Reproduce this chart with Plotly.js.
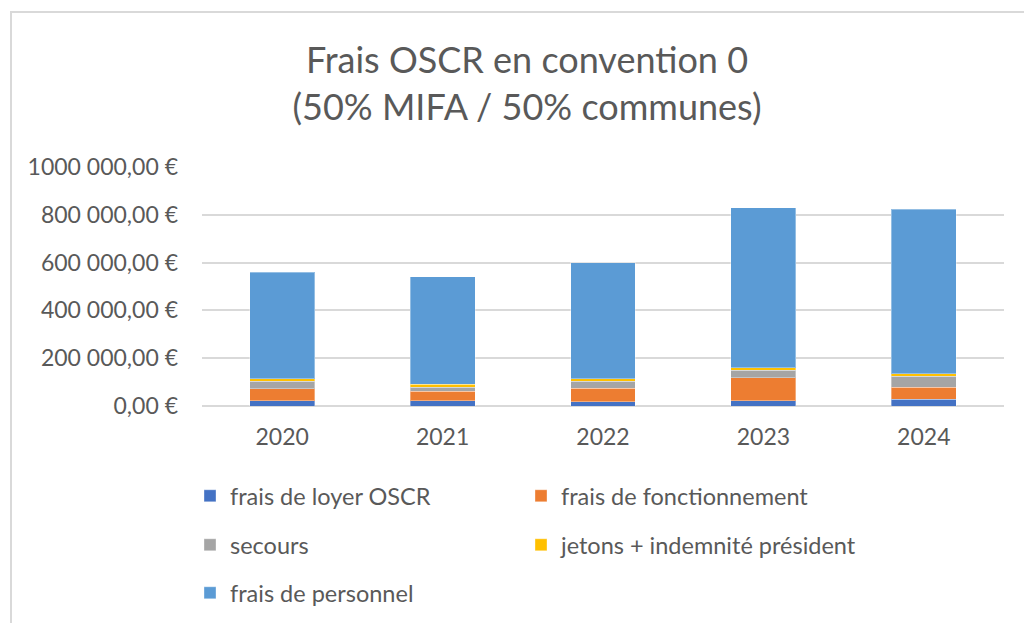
<!DOCTYPE html>
<html>
<head>
<meta charset="utf-8">
<script src="https://cdn.plot.ly/plotly-3.0.1.min.js"></script>
<style>
html,body{margin:0;padding:0;width:1024px;height:623px;overflow:hidden;background:#fff;}
#frame{position:absolute;left:10px;top:11px;width:1100px;height:700px;border:2px solid #d9d9d9;box-sizing:border-box;}
#chart{position:absolute;left:0;top:0;width:1024px;height:623px;}
</style>
</head>
<body>
<div id="frame"></div>
<div id="chart"></div>
<script>
const years = ["2020", "2021", "2022", "2023", "2024"];
const loyer = [22000, 22000, 17000, 22000, 29000];
const fonctionnement = [50000, 39000, 57000, 97000, 50000];
const secours = [31000, 18000, 29000, 30000, 46000];
const jetons = [10000, 13000, 10000, 11000, 11000];
const personnel = [446000, 449000, 487000, 670000, 688000];
const seriesNames = ["frais de loyer OSCR", "frais de fonctionnement", "secours", "jetons + indemnité président", "frais de personnel"];
const tickVals = [0, 200000, 400000, 600000, 800000, 1000000];
const tickText = ["0,00 €", "200 000,00 €", "400 000,00 €", "600 000,00 €", "800 000,00 €", "1000 000,00 €"];

const colors = ["#4472C4", "#ED7D31", "#A5A5A5", "#FFC000", "#5B9BD5"];
const legendIds = ["legend", "legend2", "legend3", "legend4", "legend5"];
const legendPos = [[190, 496], [521, 496], [190, 545], [521, 545], [190, 593]];
const values = [loyer, fonctionnement, secours, jetons, personnel];

const FONT = "Lato, 'Open Sans', sans-serif";
const traces = values.map((v, i) => ({
  type: "bar",
  x: years,
  y: v,
  name: seriesNames[i],
  legend: legendIds[i],
  marker: {color: colors[i], line: {color: "rgba(255,255,255,0.35)", width: 1}},
  hoverinfo: "x+y+name"
}));

const layout = {
  width: 1024, height: 623,
  paper_bgcolor: "rgba(0,0,0,0)",
  plot_bgcolor: "rgba(0,0,0,0)",
  barmode: "stack",
  bargap: 0.595,
  margin: {l: 202, r: 20, t: 167, b: 217},
  font: {family: FONT, color: "#595959"},
  title: {
    text: "Frais OSCR en convention 0<br>(50% MIFA / 50% communes)",
    font: {family: FONT, size: 36, color: "#595959"},
    xref: "container", x: 527 / 1024, xanchor: "center",
    yref: "container", y: 1 - 73 / 623, yanchor: "top"
  },
  xaxis: {
    type: "category",
    showgrid: false,
    showline: false,
    zeroline: false,
    ticks: "",
    ticklabelstandoff: 15,
    tickfont: {family: FONT, size: 23, color: "#595959"}
  },
  yaxis: {
    range: [0, 1000000],
    tickvals: tickVals,
    ticktext: tickText,
    showgrid: true,
    gridcolor: "#d9d9d9",
    gridwidth: 1.5,
    zeroline: true,
    zerolinecolor: "#d9d9d9",
    zerolinewidth: 1.5,
    showline: false,
    ticks: "",
    ticklabelstandoff: 23,
    tickfont: {family: FONT, size: 23, color: "#595959"}
  },
  showlegend: true
};

legendIds.forEach((id, i) => {
  layout[id] = {
    orientation: "h",
    xref: "container", yref: "container",
    xanchor: "left", yanchor: "middle",
    x: legendPos[i][0] / 1024,
    y: 1 - legendPos[i][1] / 623,
    bgcolor: "rgba(0,0,0,0)",
    font: {family: FONT, size: 23.5, color: "#595959"}
  };
});

Plotly.newPlot("chart", traces, layout, {displayModeBar: false, responsive: false});
</script>
</body>
</html>
